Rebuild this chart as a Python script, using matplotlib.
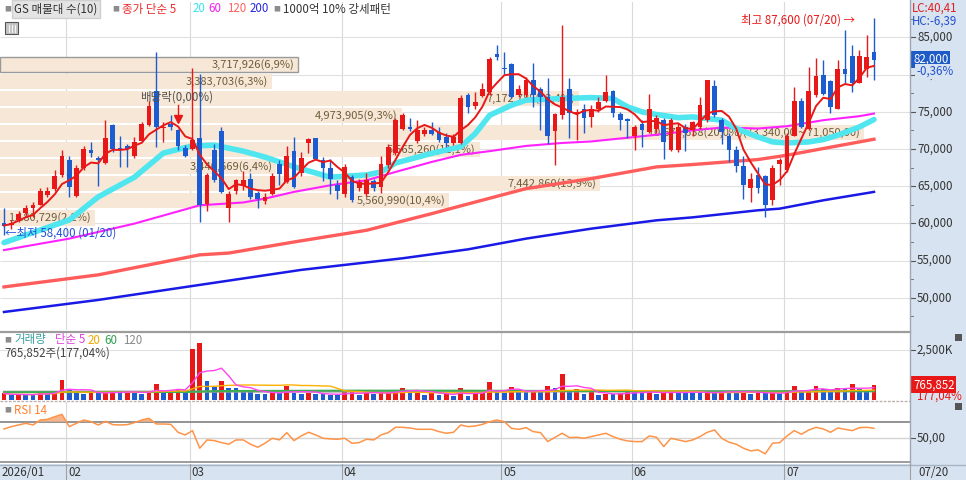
import numpy as np
import pandas as pd
import matplotlib
matplotlib.use("Agg")
import matplotlib.pyplot as plt
import matplotlib.transforms as mtransforms
from matplotlib.patches import Rectangle
from matplotlib.lines import Line2D

plt.rcParams['font.family'] = ['Noto Sans CJK KR', 'DejaVu Sans']

# ---------------- data ----------------
month_labels = ['2026/01', '02', '03', '04', '05', '06', '07']
month_start = [0, 9, 26, 47, 69, 87, 108]

opens = [60000, 59800, 60400, 61400, 62000, 62500, 63800, 64600, 66500,
         68500, 63700, 67400, 69900, 68800, 68100, 73200, 70100, 70400, 69100, 71000, 73200, 77800, 72800, 73400, 72500, 70100,
         70000, 71500, 62600, 69900, 72400, 62000, 64400, 65000, 65900, 64100, 63000, 63900, 68000, 65600, 69700, 66700, 70800, 71400, 68500, 67400, 65200,
         64000, 66200, 64800, 64000, 65700, 64900, 67800, 69400, 72700, 72900, 71000, 72000, 72500, 72300, 71600, 70800, 70800, 77300, 75700, 77100, 77600, 82700,
         80900, 81400, 77200, 77200, 79200, 78100, 77000, 72400, 74600, 78100, 74700, 75400, 74300, 75300, 76500, 77800, 74700, 74000,
         71800, 73400, 72300, 72700, 73900, 69800, 69800, 72900, 72500, 72900, 73900, 78400, 73900, 71800, 69900, 67700, 64800, 66500, 66400, 63100, 68000,
         67100, 71800, 76500, 72700, 77200, 80000, 79100, 75400, 80700, 82500, 78900, 80700, 83000]
highs = [62000, 60400, 61700, 62400, 62900, 64700, 64900, 67100, 69900,
         69000, 67800, 70400, 70900, 69100, 73900, 73400, 71800, 70700, 71600, 73600, 76500, 83000, 73600, 74500, 72700, 70500,
         80900, 80100, 66700, 70700, 73000, 64400, 66000, 67000, 66700, 64300, 64100, 66700, 68500, 70400, 71600, 69600, 71400, 71400, 68900, 68600, 65800,
         68000, 66500, 66000, 66800, 65900, 69100, 70600, 74100, 74800, 74100, 73900, 73000, 73600, 73000, 72100, 72000, 77300, 77500, 77600, 78800, 82300, 83900,
         83000, 81500, 78600, 79700, 81500, 78300, 79500, 74800, 86600, 79500, 75400, 76100, 75900, 77000, 79900, 77900, 75000, 74100,
         73200, 73900, 77400, 74500, 74100, 74100, 73500, 73300, 73800, 77000, 79300, 79300, 74100, 72100, 70400, 69000, 66700, 67600, 66500, 67800, 68800,
         72100, 78300, 76800, 81000, 82200, 81900, 79300, 82000, 86000, 84000, 83300, 85300, 87600]
lows = [58400, 59300, 60200, 60900, 60900, 62400, 63500, 64400, 66200,
        63500, 63500, 67100, 68900, 65000, 68000, 69600, 67600, 67600, 68800, 70900, 73100, 70300, 70900, 72500, 69800, 68900,
        69800, 60200, 61700, 65600, 64100, 60200, 64000, 64500, 63300, 62000, 62600, 63800, 65100, 65400, 64700, 66400, 69400, 68500, 65700, 64000, 63300,
        63500, 62900, 64300, 63700, 64400, 64100, 67400, 69200, 72500, 72400, 70800, 71700, 71900, 70900, 70300, 70500, 70700, 74800, 75400, 77000, 77300, 82000,
        80100, 76900, 77000, 77000, 75600, 72500, 70700, 67800, 74000, 71400, 71200, 72100, 73000, 75000, 76300, 74300, 72500, 71400,
        69800, 70300, 72100, 72200, 68600, 69700, 69600, 69700, 71800, 72700, 73600, 74300, 70700, 68300, 66900, 63300, 62900, 64100, 60800, 62400, 65200,
        66900, 71700, 72800, 72500, 77000, 77300, 74800, 75300, 78900, 77700, 78800, 79700, 79300]
closes = [59700, 60100, 61300, 62100, 62400, 64300, 64300, 66400, 69000,
          64900, 67400, 70000, 69500, 68500, 71400, 70000, 69900, 70000, 70900, 73300, 75700, 73000, 73000, 73000, 70400, 69000,
          71200, 62500, 66500, 65800, 64200, 64000, 65800, 65800, 63500, 63200, 63600, 66400, 66600, 69100, 64900, 68800, 71300, 68700, 67400, 66000, 64400,
          67600, 63100, 65600, 65800, 64700, 68000, 70300, 73900, 74500, 72700, 72500, 72500, 72000, 71200, 70800, 71600, 76900, 75600, 76300, 78100, 82100, 82300,
          80700, 77000, 78100, 79200, 77200, 77000, 71800, 74700, 77000, 74800, 75000, 74100, 75400, 76300, 77700, 74800, 73900, 73800,
          73000, 72500, 75400, 74100, 70900, 73900, 72900, 72100, 73600, 75900, 79200, 74500, 72300, 69800, 67700, 65200, 66000, 64800, 62400, 67400, 68500,
          71800, 76500, 72900, 77800, 79800, 77400, 75600, 80700, 80100, 78900, 82500, 82300, 82000]

# volume, thousand shares
volume_k = [330, 250, 265, 255, 250, 470, 300, 420, 1000,
            500, 330, 320, 370, 330, 420, 430, 330, 470, 370, 300, 470, 800, 330, 500, 550, 370,
            2550, 2830, 950, 670, 950, 620, 580, 470, 460, 300, 290, 370, 330, 720, 330, 320, 340, 300, 290, 250, 240,
            420, 500, 250, 370, 300, 370, 450, 460, 580, 450, 455, 250, 370, 250, 285, 215, 620, 220, 300, 370, 920, 420,
            330, 630, 420, 410, 450, 420, 720, 580, 1280, 420, 550, 300, 380, 250, 300, 290, 330, 470,
            390, 380, 395, 300, 385, 420, 390, 380, 375, 370, 390, 330, 470, 460, 380, 420, 300, 380, 330, 340, 330,
            500, 700, 420, 430, 700, 530, 450, 620, 550, 800, 530, 450, 766]

rsi14 = [61.2, 64.0, 66.0, 68.0, 66.0, 72.0, 72.8, 76.0, 78.8,
         64.0, 68.0, 72.0, 70.0, 66.0, 70.4, 66.4, 66.0, 66.4, 68.8, 72.0, 74.0, 67.2, 67.2, 66.8, 57.2, 54.0,
         59.2, 38.0, 48.0, 47.2, 44.8, 42.8, 48.0, 48.0, 42.8, 39.2, 44.0, 50.0, 48.0, 56.8, 47.2, 52.8, 57.2, 54.0, 50.0, 49.2, 48.8,
         50.0, 44.0, 44.8, 48.8, 48.0, 54.0, 56.8, 63.2, 63.2, 62.4, 60.8, 60.8, 60.8, 58.0, 56.0, 57.2, 66.0, 64.0, 64.8, 66.8, 70.0, 72.0,
         70.0, 62.0, 60.8, 62.8, 58.0, 56.8, 46.0, 51.2, 56.0, 50.8, 51.2, 50.0, 52.0, 54.0, 56.0, 52.0, 48.8, 46.8,
         46.0, 46.0, 52.8, 51.2, 40.0, 50.0, 48.0, 46.0, 48.0, 52.0, 57.2, 60.0, 50.0, 45.2, 42.8, 38.0, 34.8, 36.0, 31.2, 44.0, 44.8,
         52.8, 59.2, 54.8, 60.0, 63.2, 61.2, 57.2, 62.4, 60.8, 59.2, 62.8, 63.2, 62.0]

# longer moving averages need history before the window
ma20_at = [0, 9, 13, 18, 22, 26, 29, 33, 36, 40, 45, 50, 52, 54, 59, 63, 65, 67, 70, 72, 77, 81, 84, 86, 88, 90, 93, 95, 99, 101, 104, 106, 108, 111, 113, 115, 118, 120]
ma20_val = [57400, 60450, 63550, 66200, 69450, 70400, 70500, 69700, 68900, 67600, 66200, 66500, 66900, 68100, 69400, 70300, 72060, 74530, 75870, 76550, 76770, 76900,
            76770, 75650, 74980, 74620, 74200, 74300, 73860, 72740, 71600, 70940, 70800, 70940, 71250, 71840, 72960, 73950]
ma60_at = [0, 9, 18, 27, 33, 36, 40, 45, 50, 54, 59, 63, 67, 72, 77, 81, 86, 90, 95, 99, 104, 108, 113, 118, 120]
ma60_val = [56400, 57940, 59960, 62420, 62800, 63320, 64220, 65110, 65780, 66900, 68250, 69200, 69700, 70400, 70800, 71000, 71500, 71900, 72500, 72870, 72740,
            73050, 73860, 74400, 74750]
ma120_at = [0, 13, 27, 31, 40, 50, 59, 64, 72, 81, 90, 95, 104, 108, 113, 120]
ma120_val = [51450, 53070, 55760, 56000, 57490, 59060, 61300, 62600, 64660, 66010, 67580, 67900, 68570, 69150, 70050, 71300]
ma200_at = [0, 13, 27, 41, 55, 64, 72, 81, 90, 95, 104, 107, 113, 120]
ma200_val = [48080, 49700, 51720, 53740, 55300, 56500, 57940, 59280, 60400, 60800, 61750, 61970, 63090, 64220]

vol_ma60_at = [0, 25, 30, 47, 63, 80, 100, 120]
vol_ma60_val = [390, 400, 450, 470, 470, 450, 430, 440]
vol_ma120_at = [0, 30, 60, 90, 120]
vol_ma120_val = [410, 420, 430, 430, 440]

# volume profile (매물대 10)
vp_low = 59600
vp_step = 2290
vp_vol = [1180729, 5560990, 7442860, 3440669, 5565260, 10678638, 4973905, 7172785, 3383703, 3717926]
vp_pct = [2.2, 10.4, 13.9, 6.4, 11.1, 20.0, 9.3, 13.4, 6.3, 6.9]

last_price = 82000
last_chg = '-0,36%'
last_vol = '765,852'
last_vol_pct = '177,04%'

# ---------------- layout ----------------
W, H = 966, 480
PLOT_R = 910
X0, XSTEP = 4, 7.25
XMIN, XMAX = -X0 / XSTEP, (PLOT_R - X0) / XSTEP
UP, DOWN = '#e81818', '#1c5cd0'
PANEL = '#d7e3f0'
FS = 8.3


def price_at(y):
    return 85000 - (y - 37.3) / 0.00744


def px_x(i):
    return X0 + XSTEP * i


fig = plt.figure(figsize=(W / 100, H / 100), dpi=100)
fig.patch.set_facecolor('white')


def ftxt(x, y, s, **kw):
    kw.setdefault('fontsize', FS)
    return fig.text(x / W, 1 - y / H, s, va='center', **kw)


def fline(x0, y0, x1, y1, **kw):
    fig.add_artist(Line2D([x0 / W, x1 / W], [1 - y0 / H, 1 - y1 / H], transform=fig.transFigure, zorder=6, **kw))


def fbox(x, y, w, h, **kw):
    fig.add_artist(Rectangle((x / W, 1 - (y + h) / H), w / W, h / H, transform=fig.transFigure, **kw))


fbox(PLOT_R, 0, W - PLOT_R, H, facecolor=PANEL, edgecolor='none', zorder=0)
fbox(0, 464, W, 16, facecolor=PANEL, edgecolor='none', zorder=0)


def mk_ax(top, bottom):
    ax = fig.add_axes([0, 1 - bottom / H, PLOT_R / W, (bottom - top) / H])
    ax.set_xlim(XMIN, XMAX)
    ax.set_axis_off()
    for m in month_start[1:]:
        ax.axvline(m - 0.4, color='#dadada', lw=0.8, zorder=0)
    return ax


ax_p = mk_ax(2, 330)
ax_v = mk_ax(333, 400)
ax_r = mk_ax(402, 462)

idx = np.arange(len(closes))
o, h, l, c = map(np.array, (opens, highs, lows, closes))
cols = np.where(c >= o, UP, DOWN)

# ---------------- price panel ----------------
ax_p.set_ylim(price_at(330), price_at(2))
ax_p.hlines(range(50000, 90000, 5000), XMIN, XMAX, color='#e0e0e0', lw=0.8, zorder=0)

trp = mtransforms.blended_transform_factory(ax_p.transAxes, ax_p.transData)
for k in range(len(vp_pct)):
    lo = vp_low + k * vp_step
    w = vp_pct[k] * 43.2 / PLOT_R
    cur = lo <= last_price < lo + vp_step
    ax_p.add_patch(Rectangle((0, lo + 100), w, vp_step - 200, transform=trp, facecolor='#f6e7d6',
                             edgecolor='#9a9a9a' if cur else 'none', lw=1, zorder=0.5))
    lab = f"{vp_vol[k]:,}({vp_pct[k]:.1f}%)".replace('.', ',')
    if vp_pct[k] == max(vp_pct):
        lab += f"({lo + vp_step:,},00 ~ {lo:,},00)"
    ax_p.text(w - 4 / PLOT_R, lo + vp_step / 2, lab, transform=trp, ha='right', va='center',
              fontsize=8, color='#6e5c3a', zorder=0.6)

ax_p.plot(ma200_at, ma200_val, color='#1a1ae6', lw=1.8, zorder=2.5)
ax_p.plot(ma120_at, ma120_val, color='#ff5c5c', lw=2.4, zorder=2.5)
ax_p.plot(ma60_at, ma60_val, color='#ff22ff', lw=1.5, zorder=2.5)
ax_p.plot(ma20_at, ma20_val, color='#4fe6ef', lw=4, zorder=2.5, solid_capstyle='round')

ax_p.vlines(idx, l, h, colors=cols, lw=1, zorder=2.8)
ax_p.bar(idx, np.maximum(np.abs(c - o), 90), bottom=np.minimum(o, c), width=0.68, color=cols, lw=0, zorder=3)
ma5 = pd.Series(closes).rolling(5, min_periods=1).mean()
ax_p.plot(idx, ma5, color=UP, lw=1.4, zorder=4)

# annotations
hi_i = int(np.argmax(h))
lo_i = int(np.argmin(l))
ax_p.text(hi_i - 2.6, h[hi_i] - 250, f"최고 {h[hi_i]:,} (07/20) →", ha='right', va='center', color=UP, fontsize=FS, zorder=5)
ax_p.text(lo_i + 0.1, l[lo_i] + 350, f"←최저 {l[lo_i]:,} (01/20)", ha='left', va='center', color='#2050d8', fontsize=FS, zorder=5)
div_i = 24
ax_p.text(div_i - 0.2, price_at(97), "배당락(0,00%)", ha='center', va='center', color='#505050', fontsize=FS, zorder=5)
ax_p.plot([div_i, div_i], [price_at(105), price_at(118)], color=UP, lw=1, zorder=5)
ax_p.plot([div_i], [price_at(119)], marker='v', color=UP, markersize=6, zorder=5)

# right price scale
for p in range(50000, 90000, 5000):
    ax_p.plot([1, 1 + 5 / PLOT_R], [p, p], transform=trp, color='#555555', lw=0.8, clip_on=False)
    ax_p.text(1 + 7 / PLOT_R, p, f"{p:,}", transform=trp, ha='left', va='center', fontsize=FS, color='#333333', clip_on=False)
for p in range(47500, 90000, 5000):
    ax_p.plot([1, 1 + 3 / PLOT_R], [p, p], transform=trp, color='#777777', lw=0.7, clip_on=False)
ax_p.text(1 + 3 / PLOT_R, last_price, f"{last_price:,}", transform=trp, ha='left', va='center', fontsize=FS,
          color='white', clip_on=False, zorder=6,
          bbox=dict(boxstyle='square,pad=0.15', facecolor='#1e5bc6', edgecolor='none'))
ax_p.text(1 + 6 / PLOT_R, price_at(71.5), last_chg, transform=trp, ha='left', va='center', fontsize=FS,
          color='#2050d0', clip_on=False, zorder=6,
          bbox=dict(boxstyle='square,pad=0.05', facecolor=PANEL, edgecolor='none'))
ftxt(912, 8, "LC:40,41", color='#e02020')
ftxt(912, 21, "HC:-6,39", color='#2050d0')

# legend
ftxt(4, 9, '■', fontsize=5, color='#8c8c8c')
ftxt(14, 9, "GS 매물대 수(10)", color='#333333',
     bbox=dict(boxstyle='square,pad=0.2', facecolor='#e4e4e4', edgecolor='#cfcfcf'))
ftxt(112, 9, '■', fontsize=5, color='#8c8c8c')
ftxt(122, 9, "종가 단순 5", color='#ee2a2a')
ftxt(193, 9, "20", color='#3ae4f0')
ftxt(208, 9, "60", color='#f020f0')
ftxt(227, 9, "120", color='#ff6060')
ftxt(250, 9, "200", color='#2828e0')
ftxt(273, 9, '■', fontsize=5, color='#8c8c8c')
ftxt(283, 9, "1000억 10% 강세패턴", color='#333333')
fbox(5, 22, 13, 12, facecolor='#c4c4c4', edgecolor='#555555', lw=0.8, zorder=6)
for gx in (9, 12, 15):
    fline(gx, 25, gx, 32, color='white', lw=0.6)

# ---------------- volume panel ----------------
ax_v.set_ylim(0, 3350)
ax_v.axhline(2500, color='#e0e0e0', lw=0.8, zorder=0)
vol = np.array(volume_k)
vcols = [UP] + [UP if vol[i] > vol[i - 1] else DOWN for i in range(1, len(vol))]
ax_v.bar(idx, vol, width=0.68, color=vcols, lw=0, zorder=2)
vs = pd.Series(volume_k)
ax_v.plot(vol_ma120_at, vol_ma120_val, color='#9a9a9a', lw=1.6, zorder=3)
ax_v.plot(vol_ma60_at, vol_ma60_val, color='#3cae50', lw=1.4, zorder=3)
ax_v.plot(idx, vs.rolling(20, min_periods=1).mean(), color='#ffb000', lw=1, zorder=3)
ax_v.plot(idx, vs.rolling(5, min_periods=1).mean(), color='#ff44ee', lw=1, zorder=3)
trv = mtransforms.blended_transform_factory(ax_v.transAxes, ax_v.transData)
ax_v.plot([1, 1 + 5 / PLOT_R], [2500, 2500], transform=trv, color='#555555', lw=0.8, clip_on=False)
ax_v.text(1 + 7 / PLOT_R, 2500, "2,500K", transform=trv, ha='left', va='center', fontsize=FS, color='#333333', clip_on=False)
ax_v.text(1 + 3 / PLOT_R, volume_k[-1], last_vol, transform=trv, ha='left', va='center', fontsize=FS, color='white',
          clip_on=False, bbox=dict(boxstyle='square,pad=0.15', facecolor=UP, edgecolor='none'))
ax_v.text(1 + 6 / PLOT_R, 200, last_vol_pct, transform=trv, ha='left', va='center', fontsize=FS, color=UP, clip_on=False)
ftxt(4, 340, '■', fontsize=5, color='#8c8c8c')
ftxt(14, 340, "거래량", color='#3a9fa0')
ftxt(55, 340, "단순 5", color='#e040e0')
ftxt(88, 340, "20", color='#f0a800')
ftxt(104, 340, "60", color='#30a050')
ftxt(123, 340, "120", color='#8a8a8a')
ftxt(4, 353, f"{last_vol}주({last_vol_pct})", color='#444444')

# ---------------- RSI panel ----------------
ax_r.set_ylim(21.4, 93.7)
ax_r.axhline(70, color='#8a8a8a', lw=1.3, zorder=1)
ax_r.axhline(50, color='#d4d4d4', lw=1, zorder=1)
rsi = np.array(rsi14)
ax_r.fill_between(idx, 70, rsi, where=rsi > 70, interpolate=True, color='#f6b48c', lw=0, zorder=2)
ax_r.plot(idx, rsi, color='#ff9448', lw=1.1, zorder=3)
trr = mtransforms.blended_transform_factory(ax_r.transAxes, ax_r.transData)
ax_r.plot([1, 1 + 5 / PLOT_R], [50, 50], transform=trr, color='#555555', lw=0.8, clip_on=False)
ax_r.text(1 + 7 / PLOT_R, 50, "50,00", transform=trr, ha='left', va='center', fontsize=FS, color='#333333', clip_on=False)
ftxt(4, 410, '■', fontsize=5, color='#8c8c8c')
ftxt(14, 410, "RSI 14", color='#ff8030')

# ---------------- panel borders, time axis ----------------
fline(0, 331.5, PLOT_R, 331.5, color='#9c9c9c', lw=1.6)
fline(0, 401, PLOT_R, 401, color='#c0b0b0', lw=1, ls=(0, (2, 1)))
fline(0, 462, PLOT_R, 462, color='#8c8c8c', lw=1.2)
fline(0, 464.5, W, 464.5, color='#a8b4c4', lw=1)
fline(PLOT_R, 0, PLOT_R, 464, color='#a0a8b4', lw=1)
fbox(955, 334, 7, 7, facecolor='#555555', edgecolor='none', zorder=6)
fbox(955, 403, 7, 7, facecolor='#555555', edgecolor='none', zorder=6)

ftxt(2, 472, month_labels[0], color='#333333')
for m, lab in zip(month_start[1:], month_labels[1:]):
    xg = px_x(m - 0.4)
    fline(xg, 464, xg, 480, color='#a0a0a0', lw=0.8)
    ftxt(xg + 2, 472, lab, color='#333333')
fline(PLOT_R, 464, PLOT_R, 480, color='#a0a0a0', lw=0.8)
ftxt(918, 472, "07/20", color='#333333')

fig.savefig('out.png', dpi=100)
